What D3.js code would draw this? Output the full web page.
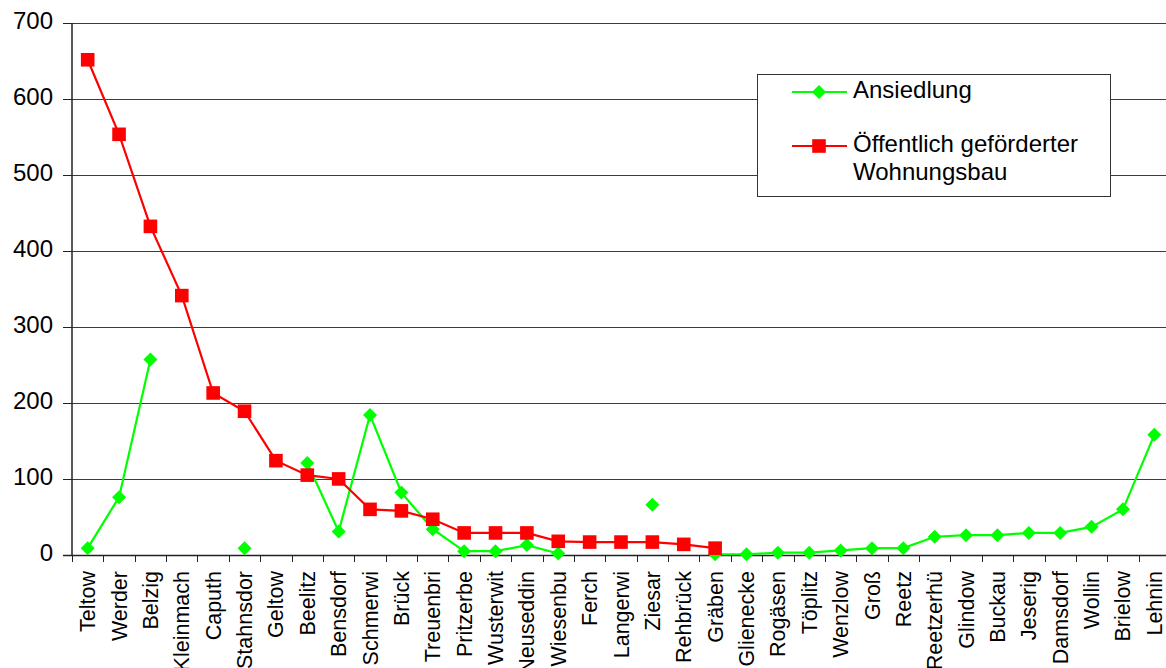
<!DOCTYPE html>
<html>
<head>
<meta charset="utf-8">
<script src="https://cdn.jsdelivr.net/npm/d3@7/dist/d3.min.js"></script>
<style>
  html, body { margin: 0; padding: 0; background: #fff; }
  svg { display: block; font-family: "Liberation Sans", Arial, sans-serif; }
</style>
</head>
<body>
<svg id="chart" width="1166" height="668"></svg>
<script>
const categories = ["Teltow","Werder","Belzig","Kleinmach","Caputh","Stahnsdor","Geltow","Beelitz","Bensdorf","Schmerwi","Brück","Treuenbri","Pritzerbe","Wusterwit","Neuseddin","Wiesenbu","Ferch","Langerwi","Ziesar","Rehbrück","Gräben","Glienecke","Rogäsen","Töplitz","Wenzlow","Groß","Reetz","Reetzerhü","Glindow","Buckau","Jeserig","Damsdorf","Wollin","Brielow","Lehnin"];

const ansiedlung = [9, 76, 257, null, null, 9, null, 121, 31, 184, 82, 34, 5, 5, 13, 2, null, null, 66, null, 1, 1, 3, 3, 6, 9, 9, 24, 26, 26, 29, 29, 37, 60, 158];

const wohnungsbau = [651, 553, 432, 341, 213, 189, 124, 105, 100, 60, 58, 47, 29, 29, 29, 18, 17, 17, 17, 14, 9, null, null, null, null, null, null, null, null, null, null, null, null, null, null];

const yTicks = [0, 100, 200, 300, 400, 500, 600, 700];

const seriesNames = ["Ansiedlung", "Öffentlich geförderter", "Wohnungsbau"];

(function () {
const W = 1166, H = 668;
const mLeft = 72, mRight = 1170, mTop = 22.5, mBottom = 555;

const svg = d3.select("#chart");

const x = d3.scalePoint().domain(categories).range([mLeft, mRight]).padding(0.5);
const step = x.step();
const y = d3.scaleLinear().domain([0, 700]).range([mBottom, mTop]);

// gridlines
svg.append("g").selectAll("line").data(yTicks.filter(v => v > 0)).join("line")
  .attr("x1", mLeft).attr("x2", W)
  .attr("y1", d => Math.round(y(d)) + 0.5).attr("y2", d => Math.round(y(d)) + 0.5)
  .attr("stroke", "#3c3c3c").attr("stroke-width", 1);

// y axis
const yAxis = svg.append("g");
yAxis.append("line").attr("x1", mLeft).attr("x2", mLeft).attr("y1", Math.round(mTop)).attr("y2", mBottom + 0.5)
  .attr("stroke", "#222").attr("stroke-width", 1.5);
yAxis.selectAll("line.tick").data(yTicks).join("line").attr("class", "tick")
  .attr("x1", 63).attr("x2", mLeft)
  .attr("y1", d => Math.round(y(d)) + 0.5).attr("y2", d => Math.round(y(d)) + 0.5)
  .attr("stroke", "#222").attr("stroke-width", 1);
yAxis.selectAll("text").data(yTicks).join("text")
  .attr("x", 53).attr("y", d => y(d)).attr("dy", "0.27em")
  .attr("text-anchor", "end").attr("font-size", 24).attr("fill", "#000")
  .text(d => d);

// x axis
const xAxis = svg.append("g");
xAxis.append("line").attr("x1", 63).attr("x2", W).attr("y1", mBottom + 0.5).attr("y2", mBottom + 0.5)
  .attr("stroke", "#222").attr("stroke-width", 1.5);
const bounds = d3.range(categories.length + 1).map(i => mLeft + i * step);
xAxis.selectAll("line.tick").data(bounds).join("line").attr("class", "tick")
  .attr("x1", d => Math.round(d) + 0.5).attr("x2", d => Math.round(d) + 0.5)
  .attr("y1", mBottom).attr("y2", mBottom + 7)
  .attr("stroke", "#222").attr("stroke-width", 1);
xAxis.selectAll("text").data(categories).join("text")
  .attr("transform", d => `translate(${x(d)},571) rotate(-90)`)
  .attr("dy", "0.35em")
  .attr("text-anchor", "end").attr("font-size", 21.5).attr("fill", "#000")
  .text(d => d);

const diamond = "M0,-7L7,0L0,7L-7,0Z";

// green series
const gData = categories.map((c, i) => ({c, v: ansiedlung[i]}));
const line = d3.line().defined(d => d.v != null).x(d => x(d.c)).y(d => y(d.v));
svg.append("path").datum(gData).attr("d", line)
  .attr("fill", "none").attr("stroke", "#00ff00").attr("stroke-width", 2.2);
svg.append("g").selectAll("path").data(gData.filter(d => d.v != null)).join("path")
  .attr("d", diamond).attr("transform", d => `translate(${x(d.c)},${y(d.v)})`)
  .attr("fill", "#00ff00");

// red series
const rData = categories.map((c, i) => ({c, v: wohnungsbau[i]}));
svg.append("path").datum(rData).attr("d", line)
  .attr("fill", "none").attr("stroke", "#ff0000").attr("stroke-width", 2.2);
svg.append("g").selectAll("rect").data(rData.filter(d => d.v != null)).join("rect")
  .attr("x", d => x(d.c) - 6.8).attr("y", d => y(d.v) - 6.8)
  .attr("width", 13.6).attr("height", 13.6).attr("fill", "#ff0000");

// legend
const lg = svg.append("g");
lg.append("rect").attr("x", 757.5).attr("y", 74.5).attr("width", 353).attr("height", 122)
  .attr("fill", "#fff").attr("stroke", "#333").attr("stroke-width", 1);
lg.append("line").attr("x1", 792).attr("x2", 847).attr("y1", 92).attr("y2", 92)
  .attr("stroke", "#00ff00").attr("stroke-width", 2.2);
lg.append("path").attr("d", diamond).attr("transform", "translate(819,92)").attr("fill", "#00ff00");
lg.append("line").attr("x1", 792).attr("x2", 847).attr("y1", 146).attr("y2", 146)
  .attr("stroke", "#ff0000").attr("stroke-width", 2.2);
lg.append("rect").attr("x", 812.2).attr("y", 139.2).attr("width", 13.6).attr("height", 13.6).attr("fill", "#ff0000");
lg.append("text").attr("x", 853).attr("y", 97.7).attr("font-size", 24).text(seriesNames[0]);
lg.append("text").attr("x", 853).attr("y", 151.7).attr("font-size", 24).text(seriesNames[1]);
lg.append("text").attr("x", 853).attr("y", 180).attr("font-size", 24).text(seriesNames[2]);
})();
</script>
</body>
</html>
